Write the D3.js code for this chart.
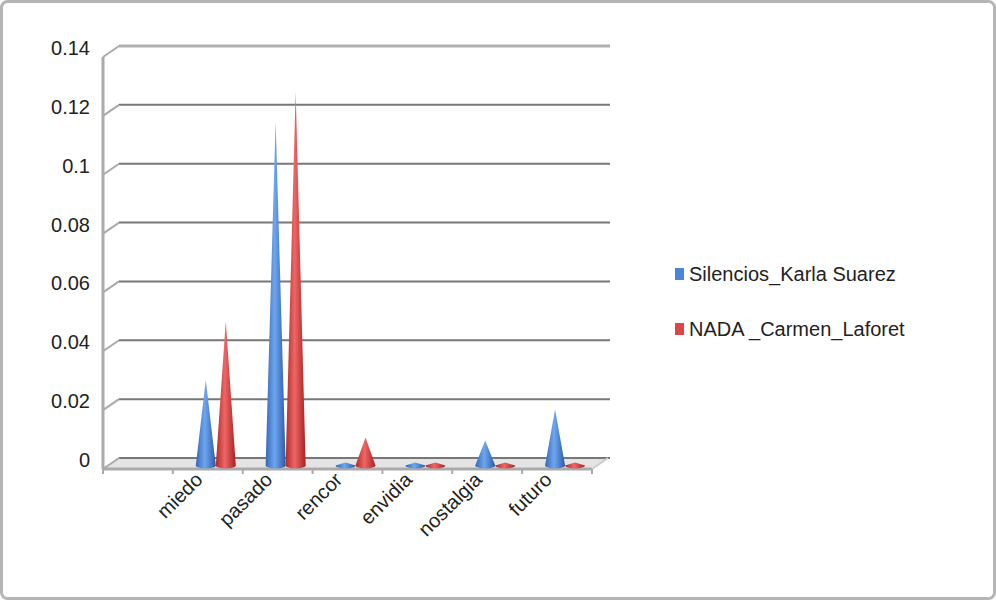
<!DOCTYPE html>
<head>
<meta charset="utf-8">
<script src="https://d3js.org/d3.v7.min.js"></script>
<style>
  body { margin: 0; background: #fff; }
  text { font-family: "Liberation Sans", Arial, sans-serif; fill: #222; }
</style>
</head>
<body>
<div id="chart"></div>
<script>
var categories = ["", "miedo", "pasado", "rencor", "envidia", "nostalgia", "futuro"];
var silencios = [null, 0.029, 0.117, 0.001, 0.001, 0.0085, 0.019];
var nada = [null, 0.049, 0.127, 0.0095, 0.001, 0.001, 0.001];
var seriesNames = ["Silencios_Karla Suarez", "NADA _Carmen_Laforet"];
var yTicks = [0, 0.02, 0.04, 0.06, 0.08, 0.1, 0.12, 0.14];

var width = 996, height = 600;
var dx = 16, dy = -11; // depth offset of the back wall

var svg = d3.select("#chart").append("svg")
  .attr("width", width).attr("height", height);

svg.append("rect").attr("x", 1.5).attr("y", 1.5).attr("width", width - 3).attr("height", height - 3)
  .attr("rx", 6).attr("fill", "#fff").attr("stroke", "#b5b5b5").attr("stroke-width", 3);

var x = d3.scaleBand().domain(categories).range([103, 592]);
var y = d3.scaleLinear().domain([0, 0.14]).range([469, 57]);

var defs = svg.append("defs");
function grad(id, c1, c2, c3) {
  var g = defs.append("linearGradient").attr("id", id);
  g.append("stop").attr("offset", "0%").attr("stop-color", c1);
  g.append("stop").attr("offset", "45%").attr("stop-color", c2);
  g.append("stop").attr("offset", "100%").attr("stop-color", c3);
}
grad("gBlue", "#3468b8", "#6ea6ef", "#2c5aa6");
grad("gRed", "#b02a2a", "#ee6666", "#a82222");

// floor
svg.append("path")
  .attr("d", `M103,${y(0)}L${592},${y(0)}L${592 + dx},${y(0) + dy}L${103 + dx},${y(0) + dy}Z`)
  .attr("fill", "#e4e4e4").attr("stroke", "#c8c8c8");

// back wall gridlines + left wall diagonals
var grid = svg.append("g");
yTicks.forEach(function(t) {
  grid.append("line").attr("x1", 103 + dx).attr("x2", 610).attr("y1", y(t) + dy).attr("y2", y(t) + dy)
    .attr("stroke", t === 0.14 ? "#b0b0b0" : "#777").attr("stroke-width", t === 0.14 ? 3 : 2);
  grid.append("line").attr("x1", 103).attr("x2", 103 + dx).attr("y1", y(t)).attr("y2", y(t) + dy)
    .attr("stroke", "#aaa").attr("stroke-width", 2);
});
// left axis + front axis
svg.append("line").attr("x1", 103).attr("x2", 103).attr("y1", y(0.14)).attr("y2", y(0))
  .attr("stroke", "#aaa").attr("stroke-width", 3);
svg.append("line").attr("x1", 103).attr("x2", 592).attr("y1", y(0)).attr("y2", y(0))
  .attr("stroke", "#aaa").attr("stroke-width", 3);
svg.append("line").attr("x1", 592).attr("x2", 592 + dx).attr("y1", y(0)).attr("y2", y(0) + dy)
  .attr("stroke", "#ccc").attr("stroke-width", 2);

// y labels
svg.append("g").selectAll("text").data(yTicks).join("text")
  .attr("x", 90).attr("y", d => y(d) - 2)
  .attr("text-anchor", "end").attr("font-size", 20)
  .text(d => d);

// x ticks & labels
svg.append("g").selectAll("line").data(categories.concat(["end"])).join("line")
  .attr("x1", (d, i) => 103 + i * x.step()).attr("x2", (d, i) => 103 + i * x.step())
  .attr("y1", y(0)).attr("y2", y(0) + 5).attr("stroke", "#aaa").attr("stroke-width", 2);
svg.append("g").selectAll("text").data(categories.filter(c => c)).join("text")
  .attr("text-anchor", "end").attr("font-size", 20)
  .attr("transform", d => `translate(${x(d) + x.bandwidth() / 2 - 4},${y(0) + 12}) rotate(-45)`)
  .text(d => d);

// cones
var cones = svg.append("g");
function drawSeries(vals, gid, off) {
  categories.forEach(function(c, i) {
    var v = vals[i];
    if (v == null) return;
    var cx = x(c) + x.bandwidth() / 2 + off + dx / 2;
    var base = y(0) + dy / 2 + 2;
    var top = y(v) + dy / 2 + 2;
    var r = 10;
    cones.append("path")
      .attr("d", `M${cx - r},${base}L${cx},${top}L${cx + r},${base}A${r},3 0 0 1 ${cx - r},${base}Z`)
      .attr("fill", `url(#${gid})`);
  });
}
drawSeries(silencios, "gBlue", -10);
drawSeries(nada, "gRed", 10);

// legend
var legend = svg.append("g");
[["#4a86d8", 268], ["#dd4646", 323]].forEach(function(d, i) {
  legend.append("rect").attr("x", 675).attr("y", d[1]).attr("width", 9).attr("height", 12).attr("fill", d[0]);
  legend.append("text").attr("x", 689).attr("y", d[1] + 13).attr("font-size", 20).text(seriesNames[i]);
});
</script>
</body>
</html>
